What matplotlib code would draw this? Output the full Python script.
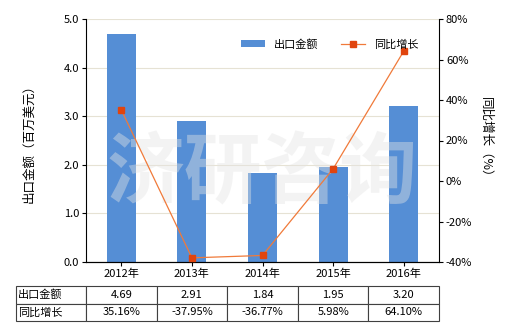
import matplotlib

matplotlib.use("Agg")
import matplotlib.pyplot as plt
import numpy as np

plt.rcParams["font.family"] = ["Noto Sans CJK SC", "DejaVu Sans"]
plt.rcParams["font.size"] = 8

years = ["2012年", "2013年", "2014年", "2015年", "2016年"]
export_value = [4.69, 2.91, 1.84, 1.95, 3.20]          # 百万美元
yoy_growth = [35.16, -37.95, -36.77, 5.98, 64.10]      # %
value_labels = ["4.69", "2.91", "1.84", "1.95", "3.20"]
growth_labels = ["35.16%", "-37.95%", "-36.77%", "5.98%", "64.10%"]

bar_color = "#558ED5"
line_color = "#F07A3A"
marker_color = "#E0440E"

fig = plt.figure(figsize=(5.2, 3.3), dpi=100)
ax = fig.add_axes([86 / 520, 1 - 262 / 330, 353 / 520, 243 / 330])
x = np.arange(len(years))

ax.bar(x, export_value, width=0.41, color=bar_color, zorder=2, label="出口金额")
ax.set_xlim(-0.5, len(years) - 0.5)
ax.set_ylim(0, 5)
ax.set_yticks(np.arange(0, 5.01, 1.0))
ax.set_yticklabels([f"{v:.1f}" for v in np.arange(0, 5.01, 1.0)])
ax.set_xticks(x)
ax.set_xticklabels(years)
ax.grid(axis="y", color="#E6E2D4", lw=0.8, zorder=0)
ax.set_ylabel("出口金额（百万美元）", labelpad=20, fontsize=9)
for s in ["top", "right"]:
    ax.spines[s].set_visible(False)
ax.tick_params(axis="both", length=3, width=0.8, pad=2)

ax2 = ax.twinx()
ax2.plot(x, yoy_growth, color=line_color, lw=0.9, marker="s", markersize=5,
         markerfacecolor=marker_color, markeredgecolor=marker_color, zorder=3,
         label="同比增长")
ax2.set_ylim(-40, 80)
ax2.set_yticks(np.arange(-40, 81, 20))
ax2.set_yticklabels([f"{v}%" for v in range(-40, 81, 20)])
ax2.set_ylabel("同比增长（%）", rotation=-90, labelpad=14, fontsize=9)
for s in ["top", "left"]:
    ax2.spines[s].set_visible(False)
ax2.tick_params(axis="y", length=3, width=0.8, pad=2)

# watermark
ax2.text(0.5, 0.36, "济研咨询", transform=ax.transAxes, ha="center", va="center",
         fontsize=56, fontweight="bold", color="#E4E4E4", alpha=0.42, zorder=1)

h1, l1 = ax.get_legend_handles_labels()
h2, l2 = ax2.get_legend_handles_labels()
ax2.legend(h1 + h2, l1 + l2, loc="upper right", bbox_to_anchor=(0.97, 0.96),
           ncol=2, frameon=False, handlelength=2.2, columnspacing=2.0,
           fontsize=8)

# data table under the chart
cell_text = [["出口金额"] + value_labels, ["同比增长"] + growth_labels]
tbl = ax.table(cellText=cell_text, bbox=[-70 / 353, -59 / 243, 423 / 353, 35 / 243],
               cellLoc="center", colWidths=[70] + [70.6] * 5)
tbl.auto_set_font_size(False)
tbl.set_fontsize(8)
for (r, c), cell in tbl.get_celld().items():
    cell.set_edgecolor("#404040")
    cell.set_linewidth(0.8)
    if c == 0:
        cell.set_text_props(ha="left")
        cell.PAD = 0.03

fig.savefig("out.png", dpi=100)
